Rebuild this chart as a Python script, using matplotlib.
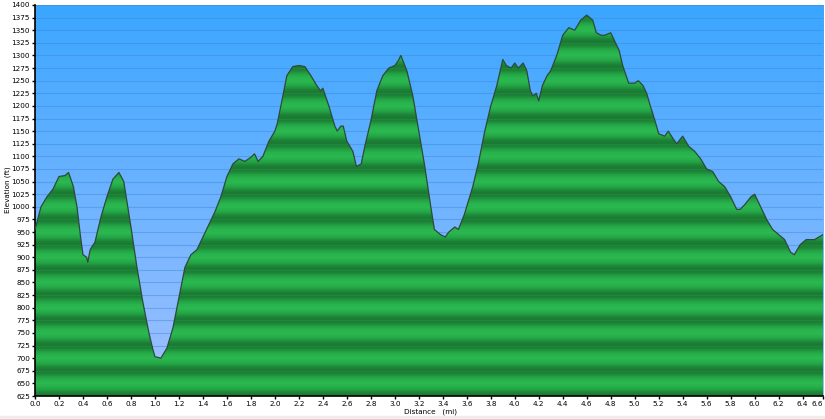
import numpy as np
import matplotlib.pyplot as plt
from matplotlib.colors import LinearSegmentedColormap
from matplotlib.patches import Rectangle

# elevation profile (miles, feet)
dist = [0.0, 0.05, 0.1, 0.15, 0.2, 0.25, 0.28, 0.32, 0.35, 0.38, 0.4, 0.43, 0.44,
        0.46, 0.5, 0.55, 0.6, 0.65, 0.7, 0.74, 0.77, 0.8, 0.85, 0.9, 0.95, 0.98,
        1.0, 1.05, 1.1, 1.15, 1.2, 1.25, 1.3, 1.35, 1.4, 1.45, 1.5, 1.55, 1.6,
        1.65, 1.7, 1.75, 1.8, 1.83, 1.86, 1.9, 1.95, 2.0, 2.02, 2.05, 2.1, 2.15,
        2.2, 2.25, 2.3, 2.35, 2.38, 2.4, 2.45, 2.5, 2.52, 2.55, 2.57, 2.6, 2.65,
        2.68, 2.72, 2.75, 2.8, 2.85, 2.9, 2.95, 3.0, 3.03, 3.05, 3.1, 3.15, 3.2,
        3.25, 3.3, 3.33, 3.38, 3.42, 3.45, 3.5, 3.53, 3.58, 3.65, 3.7, 3.75, 3.8,
        3.85, 3.9, 3.93, 3.97, 4.0, 4.03, 4.07, 4.1, 4.13, 4.15, 4.18, 4.2, 4.23,
        4.27, 4.3, 4.35, 4.4, 4.45, 4.5, 4.55, 4.6, 4.65, 4.68, 4.72, 4.75, 4.8,
        4.83, 4.87, 4.9, 4.95, 5.0, 5.03, 5.07, 5.1, 5.13, 5.17, 5.2, 5.25, 5.28,
        5.32, 5.35, 5.4, 5.45, 5.5, 5.55, 5.6, 5.65, 5.7, 5.75, 5.8, 5.85, 5.88,
        5.92, 5.97, 6.0, 6.03, 6.07, 6.1, 6.15, 6.2, 6.25, 6.3, 6.33, 6.38, 6.43,
        6.5, 6.57]
elev = [955, 1000, 1020, 1035, 1060, 1062, 1068, 1040, 1000, 940, 905, 900, 890,
        915, 930, 980, 1020, 1055, 1068, 1050, 1005, 960, 880, 810, 750, 720,
        703, 700, 720, 760, 820, 880, 905, 915, 940, 965, 990, 1020, 1060,
        1085, 1095, 1090, 1098, 1105, 1090, 1100, 1130, 1150, 1165, 1200, 1260, 1278,
        1280, 1278, 1260, 1240, 1230, 1235, 1200, 1160, 1150, 1160, 1160, 1130, 1110,
        1080, 1085, 1120, 1170, 1230, 1260, 1275, 1280, 1290, 1300, 1270, 1220, 1150,
        1080, 1000, 955, 945, 940, 950, 960, 955, 985, 1040, 1090, 1150, 1200,
        1240, 1292, 1280, 1275, 1285, 1275, 1285, 1270, 1230, 1220, 1225, 1210, 1240,
        1260, 1270, 1300, 1340, 1355, 1350, 1370, 1380, 1370, 1345, 1340, 1340, 1345,
        1330, 1310, 1280, 1245, 1245, 1250, 1240, 1225, 1200, 1170, 1145, 1140, 1150,
        1135, 1125, 1140, 1120, 1110, 1095, 1075, 1070, 1050, 1040, 1020, 995, 995,
        1005, 1020, 1025, 1010, 990, 975, 955, 945, 935, 910, 905, 925, 935,
        935, 945]

x_ticks = [0.0, 0.2, 0.4, 0.6, 0.8, 1.0, 1.2, 1.4, 1.6, 1.8, 2.0, 2.2, 2.4, 2.6,
           2.8, 3.0, 3.2, 3.4, 3.6, 3.8, 4.0, 4.2, 4.4, 4.6, 4.8, 5.0, 5.2, 5.4,
           5.6, 5.8, 6.0, 6.2, 6.4]
y_ticks = list(range(625, 1401, 25))
x_end = 6.57
y_min, y_max = 625, 1400

fig = plt.figure(figsize=(8.25, 4.19), dpi=100)
fig.patches.append(Rectangle((0, 0), 1, 3 / 419, transform=fig.transFigure,
                             color='#eeeeee', zorder=0))
ax = fig.add_axes([35 / 825, 1 - 396 / 419, 788 / 825, 391 / 419])

# blue sky gradient
sky = LinearSegmentedColormap.from_list('sky', ['#a2c1ff', '#3aa6ff'])
grad = np.linspace(0, 1, 256).reshape(-1, 1)
ax.imshow(grad, cmap=sky, origin='lower', aspect='auto',
          extent=[0, x_end, y_min, y_max], zorder=0)
for yt in y_ticks:
    ax.axhline(yt, color='#3d86d6', lw=0.8, alpha=0.45, zorder=1)

# banded green fill clipped to the profile
green = LinearSegmentedColormap.from_list('grn', ['#1b7a33', '#23a144', '#2ab74f'])
ee = np.linspace(y_min, y_max, 1200)
band = 0.5 + 0.5 * np.cos(2 * np.pi * ee / 50.0)
im = ax.imshow(band.reshape(-1, 1), cmap=green, origin='lower', aspect='auto',
               extent=[0, x_end, y_min, y_max], zorder=2, interpolation='bilinear')
poly = ax.fill_between(dist, elev, y_min, facecolor='none', edgecolor='none')
clip = poly.get_paths()[0]
im.set_clip_path(clip, transform=ax.transData)
for yt in y_ticks:
    ln = ax.axhline(yt, color='#3cc160', lw=0.5, alpha=0.25, zorder=3)
    ln.set_clip_path(clip, transform=ax.transData)
ax.plot(dist, elev, color='#2e4a38', lw=0.9, zorder=4)

ax.set_xlim(0, x_end)
ax.set_ylim(y_min, y_max)
ax.set_xticks(x_ticks + [x_end])
ax.set_xticklabels([f'{t:.1f}' for t in x_ticks] + ['6.6'])
ax.get_xticklabels()[-1].set_horizontalalignment('right')
ax.set_yticks(y_ticks)
ax.set_yticklabels([str(t) for t in y_ticks])
ax.tick_params(axis='both', labelsize=5.2, length=2, width=1, pad=1.5,
               colors='black')
for s in ['top', 'right']:
    ax.spines[s].set_visible(False)
ax.spines['left'].set_linewidth(1.2)
ax.spines['bottom'].set_linewidth(1.2)
fig.text(430 / 825, 1 - 412 / 419, 'Distance   (mi)', fontsize=5.2,
         ha='center', va='center')
fig.text(8 / 825, 1 - 190 / 419, 'Elevation (ft)', fontsize=5.2,
         ha='center', va='center', rotation=90)

fig.savefig('out.png', dpi=100)
